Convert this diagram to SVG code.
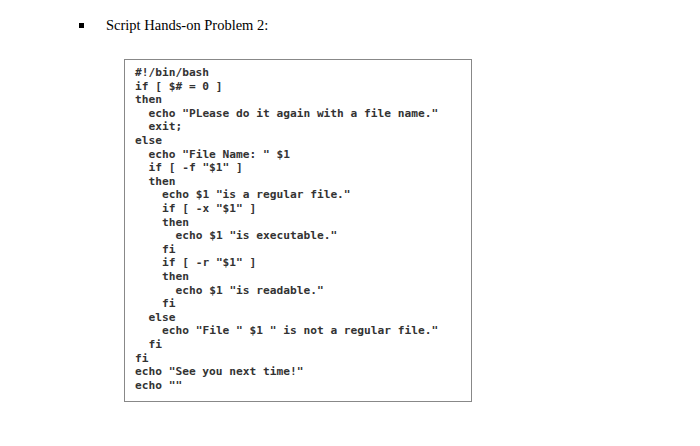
<svg xmlns="http://www.w3.org/2000/svg" width="700" height="446" viewBox="0 0 700 446">
<style>
.c{font-family:"DejaVu Sans Mono","Liberation Mono",monospace;font-size:11.2px;font-weight:bold;fill:#333;white-space:pre}
</style>
<rect width="700" height="446" fill="#fff"/>
<rect x="79" y="23" width="5" height="5" fill="#000"/>
<text x="106" y="30" font-family="Liberation Serif,serif" font-size="14.5" fill="#000">Script Hands-on Problem 2:</text>
<rect x="124.5" y="59.5" width="347" height="342" fill="#fff" stroke="#888" stroke-width="1"/>
<g class="c">
<text x="135" y="76">#!/bin/bash</text>
<text x="135" y="89.6">if [ $# = 0 ]</text>
<text x="135" y="103.2">then</text>
<text x="148.5" y="116.8">echo "PLease do it again with a file name."</text>
<text x="148.5" y="130.4">exit;</text>
<text x="135" y="144">else</text>
<text x="148.5" y="157.6">echo "File Name: " $1</text>
<text x="148.5" y="171.2">if [ -f "$1" ]</text>
<text x="148.5" y="184.8">then</text>
<text x="162" y="198.4">echo $1 "is a regular file."</text>
<text x="162" y="212">if [ -x "$1" ]</text>
<text x="162" y="225.6">then</text>
<text x="175.5" y="239.2">echo $1 "is executable."</text>
<text x="162" y="252.8">fi</text>
<text x="162" y="266.4">if [ -r "$1" ]</text>
<text x="162" y="280">then</text>
<text x="175.5" y="293.6">echo $1 "is readable."</text>
<text x="162" y="307.2">fi</text>
<text x="148.5" y="320.8">else</text>
<text x="162" y="334.4">echo "File " $1 " is not a regular file."</text>
<text x="148.5" y="348">fi</text>
<text x="135" y="361.6">fi</text>
<text x="135" y="375.2">echo "See you next time!"</text>
<text x="135" y="388.8">echo ""</text>
</g>
</svg>
